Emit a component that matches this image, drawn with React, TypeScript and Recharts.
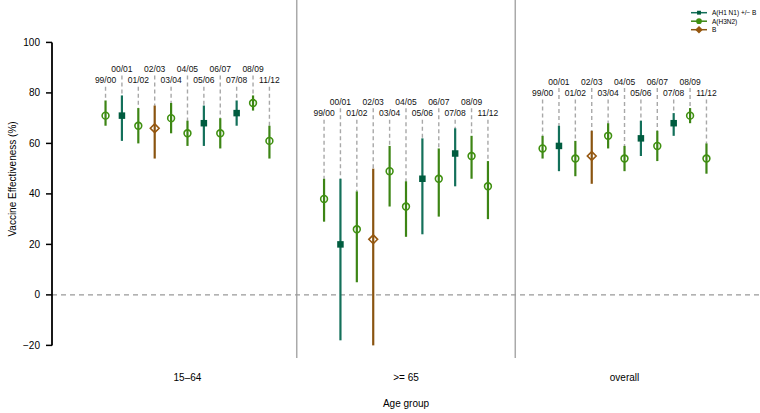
import { ComposedChart, Scatter, ErrorBar, XAxis, YAxis, ReferenceLine } from "recharts"

const AGE_GROUPS = ["15\u201364", ">= 65", "overall"]
const SEASONS = ["99/00", "00/01", "01/02", "02/03", "03/04", "04/05", "05/06", "06/07", "07/08", "08/09", "11/12"]
const SEASON_STRAIN = ["H3N2", "H1N1", "H3N2", "B", "H3N2", "H3N2", "H1N1", "H3N2", "H1N1", "H3N2", "H3N2"]

// vaccine effectiveness (%) and 95% CI, per season
const VE_15_64 = [71, 71, 67, 66, 70, 64, 68, 64, 72, 76, 61]
const LO_15_64 = [67, 61, 60, 54, 64, 59, 59, 58, 67, 73, 54]
const HI_15_64 = [77, 79, 74, 75, 76, 69, 75, 70, 77, 79, 67]

const VE_65 = [38, 20, 26, 22, 49, 35, 46, 46, 56, 55, 43]
const LO_65 = [29, -18, 5, -20, 35, 23, 24, 31, 43, 46, 30]
const HI_65 = [46, 46, 41, 50, 59, 45, 62, 58, 66, 63, 53]

const VE_ALL = [58, 59, 54, 55, 63, 54, 62, 59, 68, 71, 54]
const LO_ALL = [54, 49, 47, 44, 58, 49, 55, 53, 63, 68, 48]
const HI_ALL = [63, 67, 61, 65, 68, 59, 69, 65, 72, 74, 60]

const Y_TICKS = [-20, 0, 20, 40, 60, 80, 100]

const STRAINS = [
    { key: "H1N1", label: "A(H1 N1) +/\u2212 B", line: "#13705a", mark: "#005c3f", shape: "square" },
    { key: "H3N2", label: "A(H3N2)", line: "#3d8515", mark: "#3f9010", shape: "circle" },
    { key: "B", label: "B", line: "#8a5410", mark: "#96570f", shape: "diamond" },
]

const X_MIN = 0.38
const X_MAX = 3.62
const STEP = 0.075
const FONT = "'Liberation Sans', Arial, Helvetica, sans-serif"

const groups = [
    { ve: VE_15_64, lo: LO_15_64, hi: HI_15_64 },
    { ve: VE_65, lo: LO_65, hi: HI_65 },
    { ve: VE_ALL, lo: LO_ALL, hi: HI_ALL },
]

const points = groups.flatMap((g, gi) => {
    const top = Math.max(...g.hi)
    return SEASONS.map((season, i) => {
        const labelY = top + (i % 2 === 0 ? 6 : 10.5)
        return {
            x: gi + 1 + (i - 5) * STEP,
            y: g.ve[i],
            lo: g.lo[i],
            hi: g.hi[i],
            err: [g.ve[i] - g.lo[i], g.hi[i] - g.ve[i]],
            strain: SEASON_STRAIN[i],
            season,
            labelY,
        }
    })
})

const labelPoints = points.map((p) => ({ x: p.x, y: p.labelY, season: p.season }))

function Marker({ cx, cy, shape, color, small }: any) {
    const k = small ? 0.6 : 1
    if (shape === "square") {
        const s = 6.5 * k
        return <rect x={cx - s / 2} y={cy - s / 2} width={s} height={s} fill={color} />
    }
    if (shape === "diamond") {
        const d = 4.4 * k
        return (
            <path
                d={`M${cx},${cy - d}L${cx + d},${cy}L${cx},${cy + d}L${cx - d},${cy}Z`}
                fill={small ? color : "none"}
                stroke={color}
                strokeWidth={1.6}
            />
        )
    }
    return <circle cx={cx} cy={cy} r={3.4 * k} fill={small ? color : "none"} stroke={color} strokeWidth={1.6} />
}

function YTitle({ viewBox }: any) {
    const cy = viewBox.y + viewBox.height / 2
    return (
        <text x={12} y={cy} transform={`rotate(-90, 12, ${cy})`} textAnchor="middle" dominantBaseline="central" fontSize={10} fill="#000">
            Vaccine Effectiveness (%)
        </text>
    )
}

function XTitle({ viewBox }: any) {
    return (
        <text x={viewBox.x + viewBox.width / 2} y={403} textAnchor="middle" dominantBaseline="central" fontSize={10} fill="#000">
            Age group
        </text>
    )
}

function StrainLegend() {
    return (
        <svg width={80} height={40} style={{ position: "absolute", left: 684, top: 0, overflow: "visible" }}>
            {STRAINS.map((s, i) => {
                const y = 12.7 + i * 8.5
                return (
                    <g key={s.key}>
                        <line x1={7} x2={23} y1={y} y2={y} stroke={s.line} strokeWidth={1.5} />
                        <Marker cx={15} cy={y} shape={s.shape} color={s.mark} small />
                        <text x={28} y={y} dominantBaseline="central" fontSize={6.5} fill="#000">
                            {s.label}
                        </text>
                    </g>
                )
            })}
        </svg>
    )
}

export default function App() {
    return (
        <div style={{ position: "absolute", left: 0, top: 0, width: 760, height: 413, background: "#fff", fontFamily: FONT }}>
            <ComposedChart width={760} height={413} margin={{ top: 0, right: 0, bottom: 0, left: 0 }} style={{ fontFamily: FONT }}>
                <XAxis
                    type="number"
                    dataKey="x"
                    domain={[X_MIN, X_MAX]}
                    ticks={[1, 2, 3]}
                    interval={0}
                    allowDataOverflow
                    tickFormatter={(v) => AGE_GROUPS[Math.round(v) - 1]}
                    tick={{ fontSize: 10, fill: "#000" }}
                    axisLine={false}
                    tickLine={false}
                    tickSize={0}
                    tickMargin={16}
                    height={55}
                    label={<XTitle />}
                />
                <YAxis
                    type="number"
                    dataKey="y"
                    domain={[-25, 116.8]}
                    ticks={Y_TICKS}
                    interval={0}
                    allowDataOverflow
                    tickFormatter={(v) => String(v).replace("-", "\u2212")}
                    tick={{ fontSize: 10, fill: "#000" }}
                    axisLine={false}
                    tickLine={{ stroke: "#000", strokeWidth: 1.5 }}
                    tickSize={6}
                    tickMargin={6}
                    width={52}
                    label={<YTitle />}
                />
                <ReferenceLine x={1.5} stroke="#aaa" strokeWidth={1.5} />
                <ReferenceLine x={2.5} stroke="#aaa" strokeWidth={1.5} />
                <ReferenceLine y={0} stroke="#999" strokeWidth={1.2} strokeDasharray="5 4" />
                <ReferenceLine
                    segment={[{ x: X_MIN, y: -20 }, { x: X_MIN, y: 100 }]}
                    stroke="#000"
                    strokeWidth={1.8}
                    ifOverflow="visible"
                />
                {points.map((p, i) => (
                    <ReferenceLine
                        key={`d${i}`}
                        segment={[{ x: p.x, y: p.labelY - 2.6 }, { x: p.x, y: p.hi }]}
                        stroke="#a8a8a8"
                        strokeWidth={1.4}
                        strokeDasharray="4 3"
                    />
                ))}
                {STRAINS.map((s) => (
                    <Scatter
                        key={s.key}
                        name={s.label}
                        data={points.filter((p) => p.strain === s.key)}
                        dataKey="y"
                        isAnimationActive={false}
                        shape={(props: any) => <Marker cx={props.cx} cy={props.cy} shape={s.shape} color={s.mark} />}
                    >
                        <ErrorBar dataKey="err" direction="y" width={0} stroke={s.line} strokeWidth={2.2} isAnimationActive={false} />
                    </Scatter>
                ))}
                <Scatter
                    data={labelPoints}
                    dataKey="y"
                    isAnimationActive={false}
                    shape={(props: any) => (
                        <text x={props.cx} y={props.cy} textAnchor="middle" dominantBaseline="central" fontSize={8.5} fill="#111">
                            {props.payload.season}
                        </text>
                    )}
                />
            </ComposedChart>
            <StrainLegend />
        </div>
    )
}
